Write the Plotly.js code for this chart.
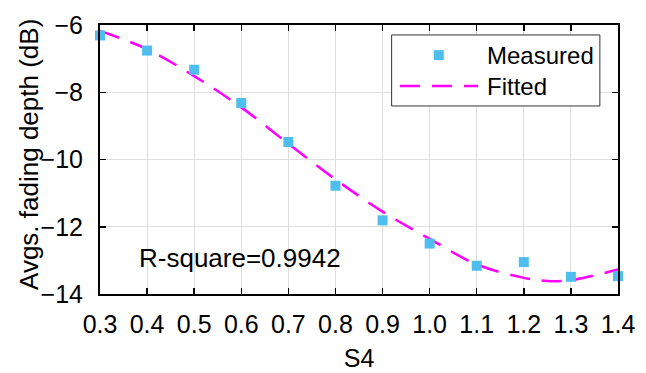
<!DOCTYPE html>
<html>
<head>
<meta charset="utf-8">
<script src="https://cdn.plot.ly/plotly-3.0.1.min.js"></script>
<style>
  html, body { margin: 0; padding: 0; background: #fff; }
  #chart { width: 646px; height: 373px; }
</style>
</head>
<body>
<div id="chart"></div>
<script>
// Measured average fading depth versus scintillation index S4
const sValues = [0.3, 0.4, 0.5, 0.6, 0.7, 0.8, 0.9, 1.0, 1.1, 1.2, 1.3, 1.4];
const measuredDepth = [-6.31, -6.76, -7.33, -8.32, -9.48, -10.78, -11.81, -12.50, -13.16, -13.05, -13.49, -13.47];

// Fitted curve, sampled along S4
const fitS = [0.3, 0.4, 0.5, 0.6, 0.7, 0.8, 0.9, 1.0, 1.1, 1.2, 1.25, 1.3, 1.4];
const fitDepth = [-6.18, -6.72, -7.52, -8.45, -9.53, -10.59, -11.55, -12.36, -13.12, -13.52, -13.61, -13.59, -13.27];

const xTicks = [0.3, 0.4, 0.5, 0.6, 0.7, 0.8, 0.9, 1.0, 1.1, 1.2, 1.3, 1.4];
const xTickText = ['0.3', '0.4', '0.5', '0.6', '0.7', '0.8', '0.9', '1.0', '1.1', '1.2', '1.3', '1.4'];
const yTicks = [-14, -12, -10, -8, -6];

const rSquareText = 'R-square=0.9942';
const yTitleText = 'Avgs. fading depth (dB)';

const FONT = 'Liberation Sans, Arial, sans-serif';
const MEASURED_COLOR = '#4DBEEE';
const FIT_COLOR = '#FF00FF';
const FIT_DASH = '20px,12px';

const traces = [
  {
    x: fitS, y: fitDepth,
    type: 'scatter', mode: 'lines', name: 'Fitted',
    line: { color: FIT_COLOR, width: 2.5, dash: FIT_DASH, shape: 'spline', smoothing: 1 },
    hoverinfo: 'skip'
  },
  {
    x: sValues, y: measuredDepth,
    type: 'scatter', mode: 'markers', name: 'Measured',
    marker: { symbol: 'square', size: 10, color: MEASURED_COLOR, line: { width: 0 } },
    cliponaxis: false
  }
];

const axisCommon = {
  showline: true, linecolor: '#000', linewidth: 2, mirror: 'ticks',
  ticks: 'inside', ticklen: 6, tickwidth: 1.5, tickcolor: '#000',
  showgrid: true, gridcolor: '#DEDEDE', gridwidth: 1,
  zeroline: false,
  tickfont: { family: FONT, size: 25, color: '#000' },
  automargin: false
};

// Legend box drawn in paper coordinates
const legendShapes = [
  { type: 'rect', xref: 'paper', yref: 'paper', x0: 0.563, x1: 0.965, y0: 0.699, y1: 0.963,
    line: { color: '#333', width: 1 }, fillcolor: '#fff', layer: 'above' },
  { type: 'rect', xref: 'paper', yref: 'paper', xsizemode: 'pixel', ysizemode: 'pixel',
    xanchor: 0.654, yanchor: 0.888, x0: -5, x1: 5, y0: -5, y1: 5,
    line: { width: 0 }, fillcolor: MEASURED_COLOR, layer: 'above' },
  { type: 'line', xref: 'paper', yref: 'paper', x0: 0.579, x1: 0.730, y0: 0.773, y1: 0.773,
    line: { color: FIT_COLOR, width: 2.5, dash: FIT_DASH }, layer: 'above' }
];

const layout = {
  width: 646, height: 373,
  margin: { l: 100, r: 28, t: 25, b: 79, pad: 0 },
  paper_bgcolor: '#fff', plot_bgcolor: '#fff',
  showlegend: false,
  font: { family: FONT, color: '#000' },
  xaxis: Object.assign({}, axisCommon, {
    range: [0.3, 1.4], tickmode: 'array', tickvals: xTicks, ticktext: xTickText,
    ticklabelstandoff: 7,
    title: { text: 'S4', font: { family: FONT, size: 25, color: '#000' }, standoff: 12 }
  }),
  yaxis: Object.assign({}, axisCommon, {
    range: [-14, -6], tickmode: 'array', tickvals: yTicks,
    ticklabelstandoff: 10
  }),
  shapes: legendShapes,
  annotations: [
    { text: yTitleText, xref: 'paper', yref: 'paper', x: -0.137, y: 0.517,
      xanchor: 'center', yanchor: 'middle', textangle: -90, showarrow: false,
      font: { family: FONT, size: 26, color: '#000' } },
    { text: rSquareText, xref: 'paper', yref: 'paper', x: 0.0714, y: 0.134,
      xanchor: 'left', yanchor: 'middle', showarrow: false,
      font: { family: FONT, size: 26, color: '#000' } },
    { text: 'Measured', xref: 'paper', yref: 'paper', x: 0.743, y: 0.888,
      xanchor: 'left', yanchor: 'middle', showarrow: false,
      font: { family: FONT, size: 24, color: '#000' } },
    { text: 'Fitted', xref: 'paper', yref: 'paper', x: 0.743, y: 0.773,
      xanchor: 'left', yanchor: 'middle', showarrow: false,
      font: { family: FONT, size: 24, color: '#000' } }
  ]
};

Plotly.newPlot('chart', traces, layout, { staticPlot: true, displayModeBar: false });
</script>
</body>
</html>
